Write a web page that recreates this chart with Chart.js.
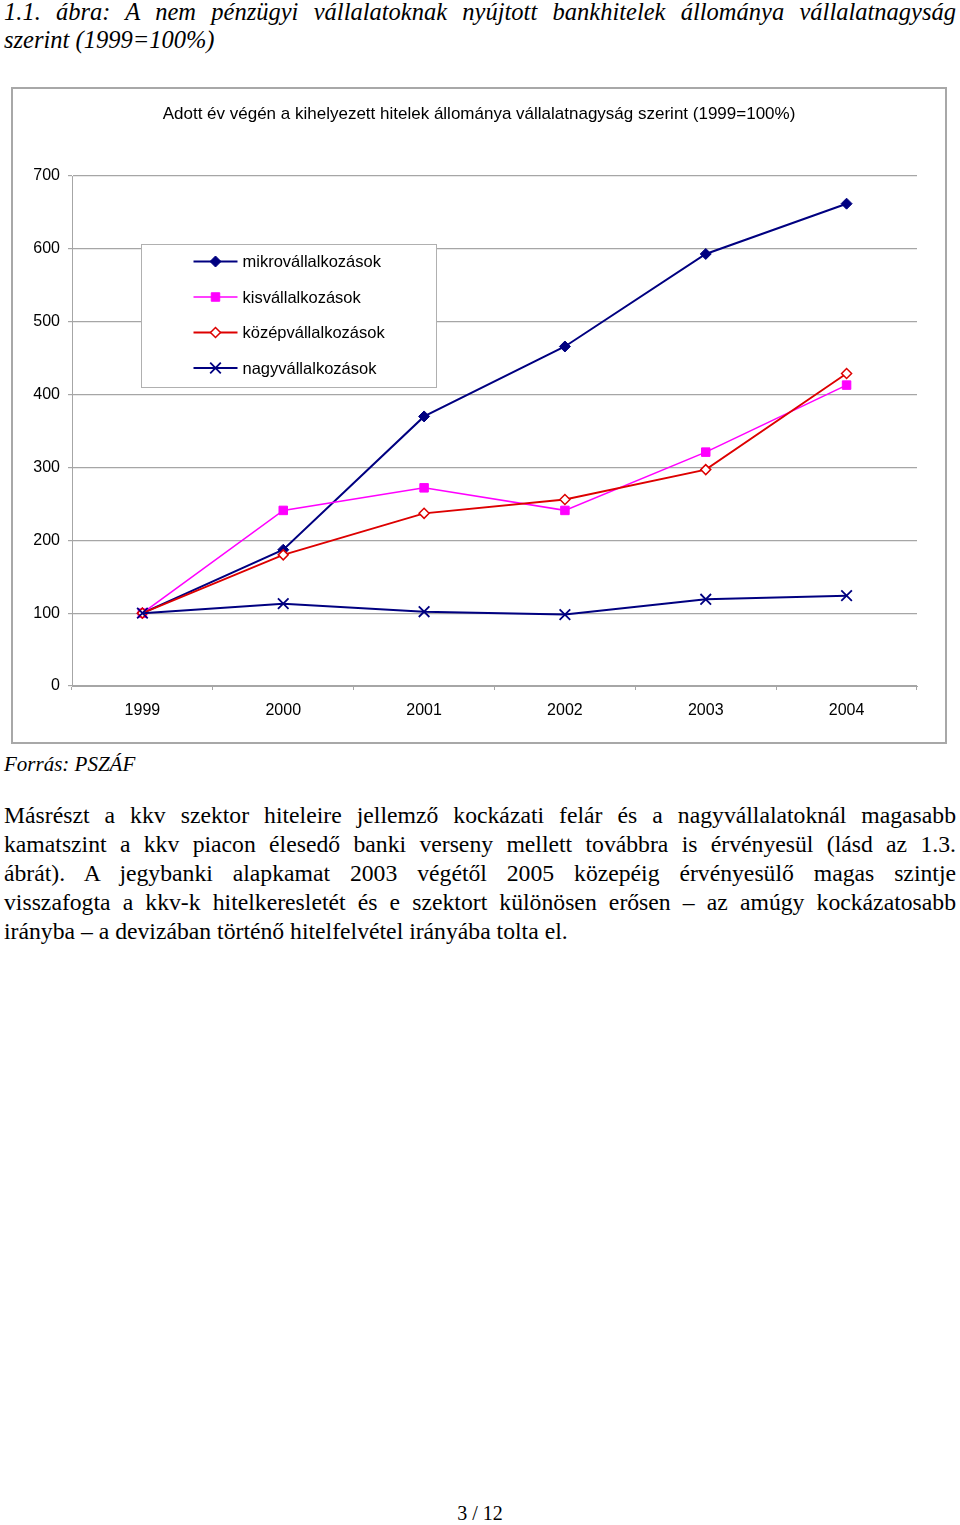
<!DOCTYPE html>
<html lang="hu">
<head>
<meta charset="utf-8">
<title>1.1. ábra</title>
<script src="https://cdn.jsdelivr.net/npm/chart.js@4/dist/chart.umd.min.js"></script>
<style>
  html, body { margin: 0; padding: 0; background: #fff; }
  body { width: 960px; height: 1525px; position: relative; overflow: hidden; font-family: "Liberation Serif", "Times New Roman", serif; color: #000; }
  .jl { display: block; text-align: justify; text-align-last: justify; white-space: nowrap; }
  .ll { display: block; text-align: left; white-space: nowrap; }
  .fig-title { position: absolute; left: 4px; top: -2px; width: 952px; font-style: italic; font-size: 24.5px; line-height: 28px; }
  #frame { position: absolute; left: 11px; top: 87px; width: 936px; height: 657px; box-sizing: border-box; border: 2px solid #a8a8a8; background: #fff; }
  #frame canvas { display: block; }
  .source { position: absolute; left: 4px; top: 751px; font-style: italic; font-size: 21px; line-height: 26px; }
  .body-text { position: absolute; left: 4px; top: 801px; width: 952px; font-size: 23.7px; line-height: 29px; margin: 0; }
  .page-num { position: absolute; left: 0; width: 960px; top: 1501px; text-align: center; font-size: 20px; line-height: 24px; }
</style>
</head>
<body>
<div class="fig-title">
  <span class="jl">1.1. ábra: A nem pénzügyi vállalatoknak nyújtott bankhitelek állománya vállalatnagyság</span>
  <span class="ll">szerint (1999=100%)</span>
</div>

<div id="frame"><canvas id="chart" width="932" height="653"></canvas></div>

<div class="source">Forrás: PSZÁF</div>
<div class="body-text">
  <span class="jl">Másrészt a kkv szektor hiteleire jellemző kockázati felár és a nagyvállalatoknál magasabb</span>
  <span class="jl">kamatszint a kkv piacon élesedő banki verseny mellett továbbra is érvényesül (lásd az 1.3.</span>
  <span class="jl">ábrát). A jegybanki alapkamat 2003 végétől 2005 közepéig érvényesülő magas szintje</span>
  <span class="jl">visszafogta a kkv-k hitelkeresletét és e szektort különösen erősen – az amúgy kockázatosabb</span>
  <span class="ll">irányba – a devizában történő hitelfelvétel irányába tolta el.</span>
</div>
<div class="page-num">3 / 12</div>

<script>
const years = ['1999', '2000', '2001', '2002', '2003', '2004'];

const mikro = [100, 187, 370, 466, 593, 662];
const kis = [100, 241, 272, 241, 321, 413];
const kozep = [100, 180, 237, 256, 297, 429];
const nagy = [100, 113, 102, 98, 119, 124];

const yTicks = [0, 100, 200, 300, 400, 500, 600, 700];

const chartTitle = 'Adott év végén a kihelyezett hitelek állománya vállalatnagyság szerint (1999=100%)';
const FONT = '"Liberation Sans", Arial, sans-serif';
const GRID = '#a6a6a6';

// title centred on the whole frame (Chart.js title would centre on the padded box)
const frameTitle = {
  id: 'frameTitle',
  afterDraw(chart) {
    const ctx = chart.ctx;
    ctx.save();
    ctx.font = '17px ' + FONT;
    ctx.fillStyle = '#000';
    ctx.textAlign = 'center';
    ctx.textBaseline = 'middle';
    ctx.fillText(chartTitle, chart.width / 2, 25);
    ctx.restore();
  }
};

// legend drawn inside the plot, like the Excel original
const insideLegend = {
  id: 'insideLegend',
  afterDraw(chart) {
    const ctx = chart.ctx;
    const x = 128.5, y = 155.5, w = 295, h = 143;
    ctx.save();
    ctx.fillStyle = '#fff';
    ctx.fillRect(x, y, w, h);
    ctx.strokeStyle = '#b0b0b0';
    ctx.lineWidth = 1;
    ctx.strokeRect(x, y, w, h);
    ctx.font = '16.5px ' + FONT;
    ctx.textBaseline = 'middle';
    chart.data.datasets.forEach((ds, i) => {
      const cy = y + 17 + i * 35.5;
      ctx.strokeStyle = ds.borderColor;
      ctx.lineWidth = ds.borderWidth;
      ctx.beginPath();
      ctx.moveTo(x + 52, cy);
      ctx.lineTo(x + 96, cy);
      ctx.stroke();
      ctx.fillStyle = ds.pointBackgroundColor;
      ctx.strokeStyle = ds.pointBorderColor;
      ctx.lineWidth = ds.pointBorderWidth;
      Chart.helpers.drawPoint(ctx, {
        pointStyle: ds.pointStyle, radius: ds.pointRadius, borderWidth: ds.pointBorderWidth, rotation: 0
      }, x + 74, cy);
      ctx.fillStyle = '#000';
      ctx.fillText(ds.label, x + 101, cy + 1);
    });
    ctx.restore();
  }
};

new Chart(document.getElementById('chart'), {
  type: 'line',
  data: {
    labels: years,
    datasets: [
      {
        label: 'mikrovállalkozások', data: mikro, order: 4,
        borderColor: '#000080', borderWidth: 2,
        pointStyle: 'rectRot', pointRadius: 5.5,
        pointBackgroundColor: '#000080', pointBorderColor: '#000080', pointBorderWidth: 1
      },
      {
        label: 'kisvállalkozások', data: kis, order: 3,
        borderColor: '#ff00ff', borderWidth: 1.6,
        pointStyle: 'rect', pointRadius: 6,
        pointBackgroundColor: '#ff00ff', pointBorderColor: '#ff00ff', pointBorderWidth: 1
      },
      {
        label: 'középvállalkozások', data: kozep, order: 2,
        borderColor: '#dd0000', borderWidth: 1.8,
        pointStyle: 'rectRot', pointRadius: 5,
        pointBackgroundColor: '#ffffff', pointBorderColor: '#dd0000', pointBorderWidth: 1.5
      },
      {
        label: 'nagyvállalkozások', data: nagy, order: 1,
        borderColor: '#000080', borderWidth: 2,
        pointStyle: 'crossRot', pointRadius: 7.5,
        pointBackgroundColor: '#000080', pointBorderColor: '#000080', pointBorderWidth: 1.8
      }
    ]
  },
  options: {
    responsive: false,
    animation: false,
    layout: { padding: { left: 0, right: 28, top: 87, bottom: 0 } },
    plugins: {
      legend: { display: false },
      tooltip: { enabled: false },
      title: { display: false }
    },
    scales: {
      x: {
        offset: true,
        grid: { offset: true, drawOnChartArea: false, drawTicks: true, tickLength: 4, color: GRID },
        border: { color: GRID, width: 1 },
        ticks: { color: '#000', font: { family: FONT, size: 16 }, padding: 11, maxRotation: 0 },
        afterFit(scale) { scale.height = 56; }
      },
      y: {
        min: 0,
        max: 700,
        afterBuildTicks(scale) { scale.ticks = yTicks.map(v => ({ value: v })); },
        grid: { color: GRID, lineWidth: 1.2, tickLength: 4 },
        border: { color: GRID, width: 1 },
        ticks: { color: '#000', font: { family: FONT, size: 16 }, padding: 8 },
        afterFit(scale) { scale.width = 59; }
      }
    }
  },
  plugins: [frameTitle, insideLegend]
});
</script>
</body>
</html>
